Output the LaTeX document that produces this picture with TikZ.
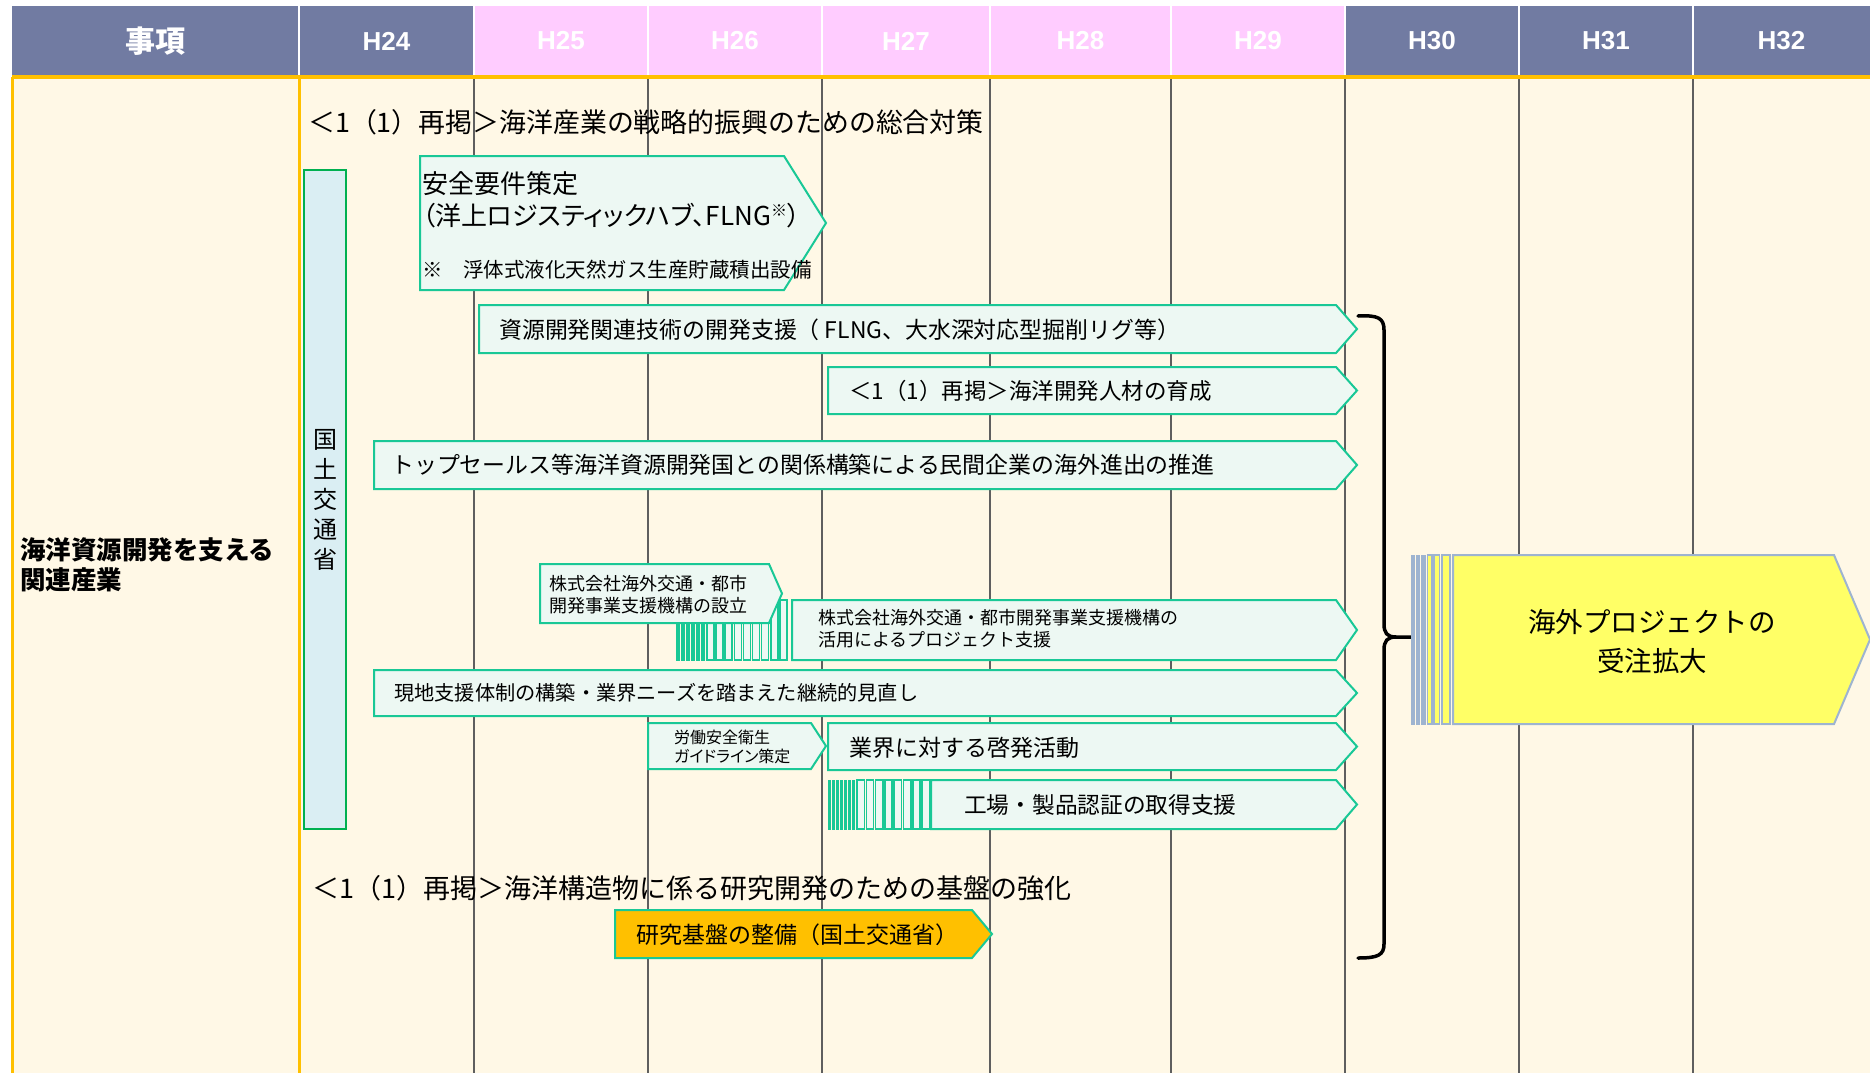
\documentclass[tikz,border=0pt]{standalone}
\usepackage{fontspec}
\setmainfont{Noto Sans CJK JP}
\newfontfamily\jpp{Noto Sans CJK JP}[RawFeature=+palt]
\newfontfamily\hfont{Liberation Sans}
\newcommand\fsz[2]{\fontsize{#1}{#2}\selectfont}
\definecolor{hdrblue}{RGB}{113,123,162}
\definecolor{hdrpink}{RGB}{255,204,255}
\definecolor{cream}{RGB}{255,248,230}
\definecolor{gold}{RGB}{255,192,0}
\definecolor{colline}{RGB}{95,95,95}
\definecolor{boxfill}{RGB}{237,248,243}
\definecolor{boxline}{RGB}{25,200,150}
\definecolor{mlitfill}{RGB}{218,238,243}
\definecolor{mlitline}{RGB}{0,176,80}
\definecolor{goalfill}{RGB}{255,255,102}
\definecolor{goalline}{RGB}{158,180,208}
\newcommand\pentbox[6]{%
  \draw[#1] (#2,#3) -- (#6,#3) -- (#4,{(#3+#5)/2}) -- (#6,#5) -- (#2,#5) -- cycle;}
\begin{document}
\begin{tikzpicture}[x=1pt,y=-1pt,
  pent/.style={draw=boxline, fill=boxfill, line width=2, line join=miter},
  thinbar/.style={draw=boxline, fill=boxline, line width=1},
  hollowbar/.style={draw=boxline, fill=boxfill, line width=1.6},
  txt/.style={inner sep=0pt, anchor=west, text=black},
  hdrtxt/.style={inner sep=0pt, text=white, font=\hfont\bfseries\fsz{26}{30}},
  colrule/.style={draw=colline, line width=1.3},
  goldrule/.style={draw=gold, line width=3}]
\useasboundingbox (0,0) rectangle (1870,1073);
\fill[white] (0,0) rectangle (1870,1073);
\fill[cream] (12,77) rectangle (1870,1073);
% header
\foreach \a/\b/\c in {12/299/hdrblue, 299/474/hdrblue, 474/648/hdrpink, 648/822/hdrpink,
  822/990/hdrpink, 990/1171/hdrpink, 1171/1345/hdrpink, 1345/1519/hdrblue,
  1519/1693/hdrblue, 1693/1870/hdrblue}
  \fill[\c] (\a,6) rectangle (\b,76);
\foreach \a in {299,474,648,822,990,1171,1345,1519,1693}
  \draw[white, line width=2.2] (\a,6) -- (\a,76);
\node[inner sep=0pt, text=white, font=\bfseries\fsz{30}{34}] (hd0) at (155.5,41) {事項};
\foreach \n/\x/\t in {1/386.5/H24, 2/561/H25, 3/735/H26, 4/906/H27, 5/1080.5/H28,
  6/1258/H29, 7/1432/H30, 8/1606/H31, 9/1781.5/H32}
  \node[hdrtxt] (hd\n) at (\x,41) {\t};
% body grid
\foreach \a in {474,648,822,990,1171,1345,1519,1693}
  \draw[colrule] (\a,78) -- (\a,1073);
\draw[goldrule] (12,77) -- (12,1073);
\draw[goldrule] (299,77) -- (299,1073);
\draw[draw=gold, line width=3.5] (12,77) -- (1870,77);
% left label
\node[txt, align=left, font=\bfseries\fsz{25.5}{30}] (lab) at (20,565)
  {海洋資源開発を支える\\関連産業};
% MLIT bar
\draw[draw=mlitline, fill=mlitfill, line width=2.5] (304,170) rectangle (346,829);
\node[inner sep=0pt, align=center, font=\fsz{24}{30}] (mlit) at (325,500)
  {国\\土\\交\\通\\省};
% top heading
\node[txt, font=\fsz{26.9}{30}] (top) at (308,122)
  {＜1（1）再掲＞海洋産業の戦略的振興のための総合対策};
% box 1
\pentbox{pent}{420}{156}{826}{290}{784}
\node[txt, font=\fsz{26}{30}] (b1a) at (422,184) {安全要件策定};
\node[txt, font=\jpp\fsz{26}{30}] (b1b) at (422,216)
  {（洋上ロジスティックハブ、FLNG\raisebox{0.35em}{\fsz{16}{18}※}）};
\node[txt, font=\fsz{20.5}{24}] (b1c) at (422,270) {※　浮体式液化天然ガス生産貯蔵積出設備};
% box 2
\pentbox{pent}{479}{305}{1357}{353}{1336}
\node[txt, font=\fsz{22.9}{26}] (b2) at (499,330)
  {資源開発関連技術の開発支援（ FLNG、大水深対応型掘削リグ等）};
% box 3
\pentbox{pent}{828}{367}{1357}{414}{1336}
\node[txt, font=\fsz{22.5}{26}] (b3) at (849,391) {＜1（1）再掲＞海洋開発人材の育成};
% box 4
\pentbox{pent}{374}{441}{1357}{489}{1336}
\node[txt, font=\fsz{22.9}{26}] (b4) at (391,465)
  {トップセールス等海洋資源開発国との関係構築による民間企業の海外進出の推進};
% stripes 1
\foreach \s in {676,681,686,691,696,701}
  \draw[thinbar] (\s,600) rectangle ({\s+3},660);
\foreach \s in {707,716.1,725.2,734.3,743.4,752.5,761.6,770.7,779.8}
  \draw[hollowbar] (\s,600) rectangle ({\s+7},660);
% box 5
\pentbox{pent}{540}{564}{782}{623}{769}
\node[txt, align=left, font=\fsz{18}{22}] (b5) at (549,595)
  {株式会社海外交通・都市\\開発事業支援機構の設立};
% box 6
\pentbox{pent}{792}{600}{1357}{660}{1336}
\node[txt, align=left, font=\fsz{18}{22}] (b6) at (818,629)
  {株式会社海外交通・都市開発事業支援機構の\\活用によるプロジェクト支援};
% box 7
\pentbox{pent}{374}{670}{1357}{716}{1336}
\node[txt, font=\fsz{20.2}{24}] (b7) at (394,693)
  {現地支援体制の構築・業界ニーズを踏まえた継続的見直し};
% box 8
\pentbox{pent}{648}{723}{826}{769}{811}
\node[txt, align=left, font=\jpp\fsz{16}{19}] (b8) at (674,746.5)
  {労働安全衛生\\ガイドライン策定};
% box 9
\pentbox{pent}{828}{723}{1357}{770}{1336}
\node[txt, font=\fsz{23}{26}] (b9) at (849,748) {業界に対する啓発活動};
% stripes 2
\foreach \s in {828,832,836,840,844,848,852}
  \draw[thinbar] (\s,780) rectangle ({\s+2.5},829);
\foreach \s in {857,866.3,875.6,884.9,894.2,903.5,912.8,922.1}
  \draw[hollowbar] (\s,780) rectangle ({\s+7.3},829);
% box 10
\pentbox{pent}{931}{780}{1357}{829}{1336}
\node[txt, font=\fsz{22.7}{26}] (b10) at (964,805) {工場・製品認証の取得支援};
% bottom heading
\node[txt, font=\fsz{27}{30}] (bot) at (312,888)
  {＜1（1）再掲＞海洋構造物に係る研究開発のための基盤の強化};
% research box
\pentbox{draw=boxline, fill=gold, line width=2}{615}{910}{992}{958}{972}
\node[txt, font=\fsz{23}{26}] (res) at (636,935) {研究基盤の整備（国土交通省）};
% brace
\draw[line width=3.5, line cap=round, line join=round]
  (1358,316) .. controls (1378,315) and (1384,318) .. (1384,330) -- (1384,624)
  .. controls (1384,633) and (1387,637) .. (1396,637) -- (1411,637);
\draw[line width=3.5, line cap=round, line join=round]
  (1396,637) .. controls (1387,637) and (1384,641) .. (1384,650) -- (1384,944)
  .. controls (1384,955) and (1378,958) .. (1358,958);
% goal stripes
\foreach \a/\b in {1411/1414.5, 1416/1419.5, 1421.5/1425.5}
  \draw[draw=goalline, fill=goalline, line width=1] (\a,555) rectangle (\b,724);
\foreach \a/\b in {1427.5/1432, 1434/1439.5, 1442/1450}
  \draw[draw=goalline, fill=goalfill, line width=1.6] (\a,555) rectangle (\b,724);
\pentbox{draw=goalline, fill=goalfill, line width=2}{1453}{555}{1870}{724}{1834}
\node[inner sep=0pt, align=center, font=\fsz{27.5}{39}] (goal) at (1652,642)
  {海外プロジェクトの\\受注拡大};
\end{tikzpicture}
\end{document}
